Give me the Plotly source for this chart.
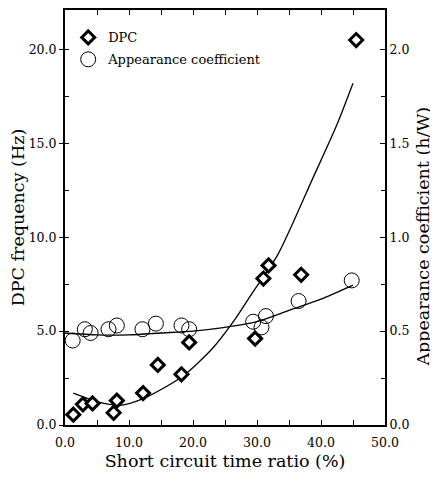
import plotly.graph_objects as go

# measured points
dpc_x = [1.3, 2.8, 4.3, 7.6, 8.1, 12.2, 14.5, 18.2, 19.4, 29.7, 31.0, 31.8, 36.9, 45.5]
dpc_y = [0.55, 1.1, 1.15, 0.65, 1.3, 1.7, 3.2, 2.7, 4.4, 4.6, 7.8, 8.5, 8.0, 20.5]

app_x = [1.2, 3.1, 4.0, 6.8, 8.1, 12.1, 14.2, 18.2, 19.4, 29.4, 30.7, 31.4, 36.5, 44.8]
app_y = [0.45, 0.51, 0.49, 0.51, 0.53, 0.51, 0.54, 0.53, 0.51, 0.55, 0.52, 0.58, 0.66, 0.77]

# fitted curves as drawn in the figure
dpc_fit_x = [1.3, 5, 8.6, 12.2, 18.4, 23.1, 26.3, 29.2, 33.3, 38.8, 42.5, 45]
dpc_fit_y = [1.7, 1.25, 1.05, 1.4, 2.6, 4.1, 5.5, 7.0, 9.1, 13.2, 16.0, 18.2]
app_fit_x = [0, 5, 10, 15, 20, 25, 30, 35, 40, 45]
app_fit_y = [0.49, 0.48, 0.48, 0.49, 0.50, 0.52, 0.55, 0.61, 0.67, 0.745]

font = "DejaVu Serif"

fig = go.Figure()
fig.add_trace(go.Scatter(x=dpc_fit_x, y=dpc_fit_y, mode='lines',
                         line=dict(color='black', width=1.3, shape='spline', smoothing=0.7),
                         showlegend=False, hoverinfo='skip'))
fig.add_trace(go.Scatter(x=app_fit_x, y=app_fit_y, mode='lines', yaxis='y2',
                         line=dict(color='black', width=1.3, shape='spline', smoothing=0.7),
                         showlegend=False, hoverinfo='skip'))
fig.add_trace(go.Scatter(x=dpc_x, y=dpc_y, mode='markers', name='DPC', legendgroup='a',
                         marker=dict(symbol='diamond', size=10, color='white', line=dict(color='black', width=3))))
fig.add_trace(go.Scatter(x=app_x, y=app_y, mode='markers', name='Appearance coefficient', yaxis='y2',
                         legendgroup='b',
                         marker=dict(symbol='circle-open', size=15, color='black', line=dict(color='black', width=1))))

axis_common = dict(showgrid=False, zeroline=False, showline=True, linecolor='black', linewidth=2, automargin=False,
                   tickcolor='black', tickfont=dict(family=font, size=12.5, color='black'))

# page body adds ~8px margin, so the figure is sized to fit the window
fig.update_layout(
    width=430, height=478,
    margin=dict(l=57, r=53, t=2, b=61),
    paper_bgcolor='white', plot_bgcolor='white',
    font=dict(family=font, color='black'),
    xaxis=dict(range=[0, 50], tickvals=[0, 10, 20, 30, 40, 50], tickformat='.1f', ticks='inside', ticklen=5,
               ticklabelstandoff=5,
               minor=dict(dtick=5, ticks='inside', ticklen=5, tickcolor='black'), mirror='ticks',
               title=dict(text='Short circuit time ratio (%)', font=dict(family=font, size=17.5), standoff=6),
               **axis_common),
    yaxis=dict(range=[0, 22.1], tickvals=[0, 5, 10, 15, 20], tickformat='.1f', ticks='outside', ticklen=4,
               minor=dict(dtick=2.5, ticks='inside', ticklen=4, tickcolor='black'),
               title=dict(text='DPC frequency (Hz)', font=dict(family=font, size=17.5), standoff=3),
               **axis_common),
    yaxis2=dict(range=[0, 2.21], overlaying='y', side='right', tickvals=[0, 0.5, 1.0, 1.5, 2.0], tickformat='.1f',
                ticks='inside', ticklen=5, minor=dict(dtick=0.25, ticks='inside', ticklen=4, tickcolor='black'),
                **axis_common),
    legend=dict(x=0.01, y=0.97, xanchor='left', yanchor='top', bgcolor='rgba(0,0,0,0)',
                font=dict(family=font, size=13), itemwidth=30, tracegroupgap=2),
)

# right axis title placed by hand so it stays inside the canvas
fig.add_annotation(text='Appearance coefficient (h/W)', textangle=-90, xref='paper', yref='paper',
                   x=1.12, y=0.455, xanchor='center', yanchor='middle', showarrow=False,
                   font=dict(family=font, size=17.5, color='black'))

fig.write_html("out.html")
